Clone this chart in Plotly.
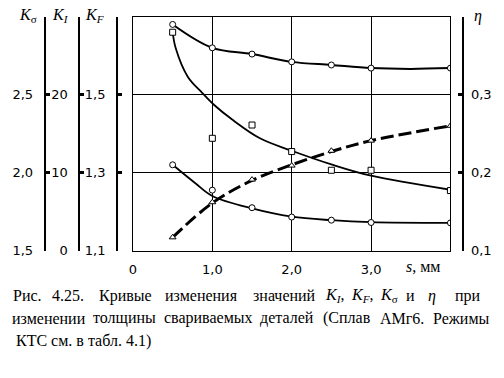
import plotly.graph_objects as go

W, H = 504, 378

# ---- data ----
s_pts = [0.5, 1.0, 1.5, 2.0, 2.5, 3.0, 4.0]

k_sigma_pts = [2.95, 2.80, 2.76, 2.71, 2.69, 2.67, 2.67]
k_sigma_curve_x = [0.5, 1.0, 1.5, 2.0, 2.5, 3.0, 3.5, 4.0]
k_sigma_curve_y = [2.95, 2.80, 2.76, 2.71, 2.69, 2.67, 2.665, 2.67]

k_i_pts = [28.0, 14.4, 16.1, 12.7, 10.3, 10.3, 7.7]
k_i_curve_x = [0.5, 0.54, 0.69, 0.875, 1.02, 1.25, 1.6, 2.0, 2.5, 3.0, 4.0]
k_i_curve_y = [28.0, 25.9, 22.3, 20.2, 18.7, 16.8, 14.4, 12.8, 11.05, 9.6, 7.8]

k_f_pts = [1.320, 1.255, 1.210, 1.186, 1.178, 1.172, 1.171]
k_f_curve_x = [0.5, 0.79, 1.0, 1.5, 2.0, 2.5, 3.0, 4.0]
k_f_curve_y = [1.320, 1.272, 1.240, 1.208, 1.187, 1.178, 1.173, 1.171]

eta_pts = [0.117, 0.162, 0.191, 0.209, 0.228, 0.241, 0.260]
eta_curve_x = [0.5, 1.0, 1.5, 2.0, 2.5, 3.0, 4.0]
eta_curve_y = [0.117, 0.161, 0.190, 0.210, 0.227, 0.241, 0.260]

x_tickvals = [0, 1, 2, 3]
x_ticktext = ["0", "1,0", "2,0", "3,0"]
ks_ticks = [1.5, 2.0, 2.5, 3.0]
ks_text = ["1,5", "2,0", "2,5", ""]
ki_ticks = [0, 10, 20, 30]
ki_text = ["0", "10", "20", ""]
kf_ticks = [1.1, 1.3, 1.5, 1.7]
kf_text = ["1,1", "1,3", "1,5", ""]
eta_ticks = [0.1, 0.2, 0.3, 0.4]
eta_text = ["0,1", "0,2", "0,3", ""]

caption1 = [("Рис.", 24), ("4.25.", 65), ("Кривые", 122), ("изменения", 199),
            ("значений", 283), ("<i>K</i><sub><i>I</i></sub>,", 333),
            ("<i>K</i><sub><i>F</i></sub>,", 361), ("<i>K</i><sub>σ</sub>", 388),
            ("и", 410), ("<i>η</i>", 431), ("при", 468)]
caption2 = [("изменении", 45), ("толщины", 121), ("свариваемых", 206), ("деталей", 285),
            ("(Сплав", 346), ("АМг6.", 401), ("Режимы", 461)]
caption3 = "КТС см. в табл. 4.1)"

# ---- geometry ----
PX_L, PX_R, PY_T, PY_B = 130, 450, 17, 256
def fx(px): return px / W
def fy(py): return 1 - py / H
YDOM = [fy(PY_B), fy(PY_T)]

fig = go.Figure()

def add_series(cx, cy, mx, my, yline, ymark, symbol, lw, dash="solid"):
    fig.add_trace(go.Scatter(x=cx, y=cy, mode="lines", yaxis=yline,
                             line=dict(color="black", width=lw, shape="spline",
                                       smoothing=1.0, dash=dash),
                             hoverinfo="skip", showlegend=False))
    fig.add_trace(go.Scatter(x=mx, y=my, mode="markers", yaxis=ymark,
                             marker=dict(symbol=symbol, size=6, color="white",
                                         line=dict(color="black", width=1)),
                             showlegend=False))

add_series(k_f_curve_x, k_f_curve_y, s_pts, k_f_pts, "y", "y4", "circle", 1.8)
add_series(k_sigma_curve_x, k_sigma_curve_y, s_pts, k_sigma_pts, "y2", "y2", "circle", 2)
add_series(k_i_curve_x, k_i_curve_y, s_pts, k_i_pts, "y3", "y3", "square", 1.8)
add_series(eta_curve_x, eta_curve_y, s_pts, eta_pts, "y5", "y5", "triangle-up", 3,
           dash="13px,5px")

tickfont = dict(family="DejaVu Sans", size=13, color="black")

def free_axis(rng, tv, tt, pos, side="left", standoff=8):
    return dict(overlaying="y", anchor="free", position=pos, side=side, domain=YDOM,
                range=rng, tickvals=tv, ticktext=tt, showgrid=False, zeroline=False,
                showline=True, linecolor="black", linewidth=2,
                ticks="inside", ticklen=4, tickwidth=3, tickcolor="black",
                tickfont=tickfont, ticklabelstandoff=standoff)

fig.update_layout(
    width=W, height=H, margin=dict(l=0, r=0, t=0, b=0),
    paper_bgcolor="white", plot_bgcolor="white",
    xaxis=dict(domain=[fx(PX_L), fx(PX_R)], range=[0, 4], tickvals=x_tickvals,
               ticktext=x_ticktext, showgrid=True, gridcolor="black", gridwidth=1,
               zeroline=False, showline=True, mirror=True, linecolor="black",
               linewidth=1, ticks="", tickfont=tickfont, ticklabelstandoff=7),
    yaxis=dict(domain=YDOM, range=[1.1, 1.7], tickvals=[1.3, 1.5],
               showticklabels=False, showgrid=True, gridcolor="black", gridwidth=1,
               zeroline=False, showline=True, mirror=True, linecolor="black",
               linewidth=1, ticks=""),
    yaxis2=free_axis([1.5, 3.0], ks_ticks, ks_text, fx(41)),
    yaxis3=free_axis([0, 30], ki_ticks, ki_text, fx(76)),
    yaxis4=free_axis([1.1, 1.7], kf_ticks, kf_text, fx(114)),
    yaxis5=free_axis([0.1, 0.4], eta_ticks, eta_text, fx(463), side="right", standoff=4),
)

ann = []
titlefont = dict(family="Liberation Serif", size=16, color="black")
for txt, px in [("<i>K</i><sub>σ</sub>", 24), ("<i>K</i><sub><i>I</i></sub>", 57),
                ("<i>K</i><sub><i>F</i></sub>", 91), ("<i>η</i>", 478)]:
    ann.append(dict(text=txt, x=fx(px), y=fy(16), xref="paper", yref="paper",
                    xanchor="center", yanchor="middle", showarrow=False, font=titlefont))
ann.append(dict(text="<i>s</i>, мм", x=fx(422), y=fy(272), xref="paper", yref="paper",
                xanchor="center", yanchor="middle", showarrow=False,
                font=dict(family="Liberation Serif", size=16, color="black")))

capfont = dict(family="Liberation Serif", size=16, color="black")
for txt, px in caption1:
    ann.append(dict(text=txt, x=fx(px), y=fy(302), xref="paper", yref="paper",
                    xanchor="center", yanchor="middle", showarrow=False, font=capfont))
for txt, px in caption2:
    ann.append(dict(text=txt, x=fx(px), y=fy(325), xref="paper", yref="paper",
                    xanchor="center", yanchor="middle", showarrow=False, font=capfont))
ann.append(dict(text=caption3, x=fx(10), y=fy(348), xref="paper", yref="paper",
                xanchor="left", yanchor="middle", showarrow=False, font=capfont))
fig.update_layout(annotations=ann)

fig.write_html("out.html")
